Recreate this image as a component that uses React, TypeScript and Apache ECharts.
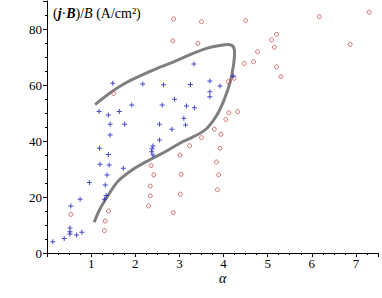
import React, { useEffect, useRef } from "react";
import * as echarts from "echarts";

const bluePoints: number[][] = [
  [0.13, 4.0], [0.39, 5.2], [0.52, 6.8], [0.52, 7.6], [0.52, 8.9], [0.67, 6.4], [0.79, 7.4],
  [0.54, 16.8], [0.75, 19.2], [0.96, 25.2], [1.2, 31.7], [1.19, 37.4], [1.39, 35.2], [1.41, 31.4],
  [1.36, 27.9], [1.32, 24.3], [1.34, 20.5], [1.3, 19.2], [1.73, 30.3], [2.37, 36.2], [2.4, 35.0],
  [2.4, 38.2], [2.38, 37.2], [1.49, 60.6], [2.17, 60.4], [2.64, 60.1], [1.18, 50.5], [1.39, 49.3],
  [1.64, 50.5], [1.92, 52.9], [2.61, 52.9], [2.89, 54.9], [3.16, 52.5], [1.43, 46.0], [1.76, 46.0],
  [1.43, 42.1], [2.55, 46.0], [2.83, 44.2], [3.1, 48.1], [3.14, 45.7], [2.55, 40.4], [3.33, 67.5],
  [3.25, 60.2], [3.69, 61.4], [3.92, 59.6], [3.69, 57.6], [3.69, 55.8], [4.22, 63.2], [3.34, 51.9],
];

const redPoints: number[][] = [
  [2.87, 83.6], [2.85, 75.8], [1.51, 57.0], [3.5, 82.6], [4.5, 83.0], [6.17, 84.4], [7.3, 86.0],
  [3.42, 74.9], [5.2, 78.1], [5.09, 76.1], [5.15, 73.5], [4.77, 71.9], [6.87, 74.5], [4.47, 67.7],
  [4.68, 68.3], [5.2, 66.5], [5.3, 63.0], [4.24, 62.4], [4.11, 61.2], [4.12, 50.1], [4.32, 50.5],
  [4.05, 47.7], [3.79, 44.2], [3.94, 42.4], [3.5, 41.2], [3.92, 37.4], [3.23, 38.3], [3.84, 32.5],
  [3.89, 27.9], [3.86, 22.6], [3.01, 35.0], [2.36, 31.2], [2.42, 27.9], [3.04, 28.1], [2.34, 23.9],
  [3.02, 21.0], [2.34, 20.4], [2.3, 16.8], [2.86, 14.4], [0.54, 13.8], [1.39, 15.0], [1.32, 11.4],
  [1.3, 8.0],
];

const curvePoints: number[][] = [
  [1.07, 11.0], [1.2, 15.7], [1.43, 21.7], [1.62, 25.8], [1.96, 30.0], [2.34, 33.4], [2.72, 36.5],
  [3.02, 39.3], [3.29, 41.3], [3.6, 44.2], [3.85, 49.3], [4.02, 55.0], [4.15, 61.0], [4.22, 66.5],
  [4.25, 71.3], [4.22, 73.7], [4.11, 74.5], [3.88, 74.0], [3.58, 72.9], [3.27, 71.0], [2.87, 68.3],
  [2.3, 64.6], [1.8, 60.9], [1.45, 57.4], [1.09, 53.0],
];

const xTicks = [1, 2, 3, 4, 5, 6, 7];
const yTicks = [0, 20, 40, 60, 80];

const SERIF = "Liberation Serif";
const PLUS = "path://M2,0h1v2h2v1h-2v2h-1v-2h-2v-1h2z";

export default function App() {
  const ref = useRef<HTMLDivElement>(null);
  useEffect(() => {
    document.body.style.margin = "0";
    if (!ref.current) return;
    const chart = echarts.init(ref.current, undefined, { renderer: "svg" });
    chart.setOption({
      animation: false,
      backgroundColor: "#ffffff",
      textStyle: { fontFamily: SERIF },
      grid: { left: 47, right: 4, top: 1, bottom: 45 },
      xAxis: {
        type: "value",
        min: 0,
        max: 7.5,
        interval: 1,
        axisLine: { show: true, lineStyle: { color: "#000", width: 1 } },
        axisTick: { show: true, length: 4, lineStyle: { color: "#000" } },
        minorTick: { show: true, splitNumber: 4, length: 2, lineStyle: { color: "#000" } },
        splitLine: { show: false },
        axisLabel: {
          color: "#000",
          fontFamily: SERIF,
          fontSize: 13,
          margin: 4,
          formatter: (v: number) => (xTicks.includes(v) ? String(v) : ""),
        },
      },
      yAxis: {
        type: "value",
        min: 0,
        max: 90,
        interval: 20,
        axisLine: { show: true, lineStyle: { color: "#000", width: 1 } },
        axisTick: { show: true, length: 4, lineStyle: { color: "#000" } },
        minorTick: { show: true, splitNumber: 4, length: 2, lineStyle: { color: "#000" } },
        splitLine: { show: false },
        axisLabel: {
          color: "#000",
          fontFamily: SERIF,
          fontSize: 13,
          margin: 5,
          formatter: (v: number) => (yTicks.includes(v) ? String(v) : ""),
        },
      },
      series: [
        {
          type: "line",
          data: curvePoints,
          smooth: 0.35,
          showSymbol: false,
          symbol: "none",
          lineStyle: { color: "#7f7f7f", width: 3 },
          z: 1,
        },
        {
          type: "scatter",
          data: redPoints,
          symbol: "circle",
          symbolSize: 4,
          itemStyle: { color: "rgba(0,0,0,0)", borderColor: "#cc4a4a", borderWidth: 1 },
          z: 2,
        },
        {
          type: "scatter",
          data: bluePoints,
          symbol: PLUS,
          symbolSize: 5,
          itemStyle: { color: "#1c1cc4" },
          z: 3,
        },
      ],
      graphic: [
        {
          type: "text",
          left: 53,
          top: 6,
          style: {
            text: "{n|(}{bi|j}{n|·}{bi|B}{n|)/}{i|B}{n| (A/cm²)}",
            rich: {
              n: { fontFamily: SERIF, fontSize: 14, fill: "#000" },
              bi: { fontFamily: SERIF, fontSize: 14, fontStyle: "italic", fontWeight: "bold", fill: "#000" },
              i: { fontFamily: SERIF, fontSize: 14, fontStyle: "italic", fill: "#000" },
            },
          },
        },
        {
          type: "text",
          left: 219,
          top: 271,
          style: {
            text: "α",
            fontFamily: SERIF,
            fontSize: 14,
            fontStyle: "italic",
            fill: "#000",
          },
        },
      ],
    });
    return () => chart.dispose();
  }, []);
  return <div ref={ref} style={{ width: 382, height: 298 }} />;
}
